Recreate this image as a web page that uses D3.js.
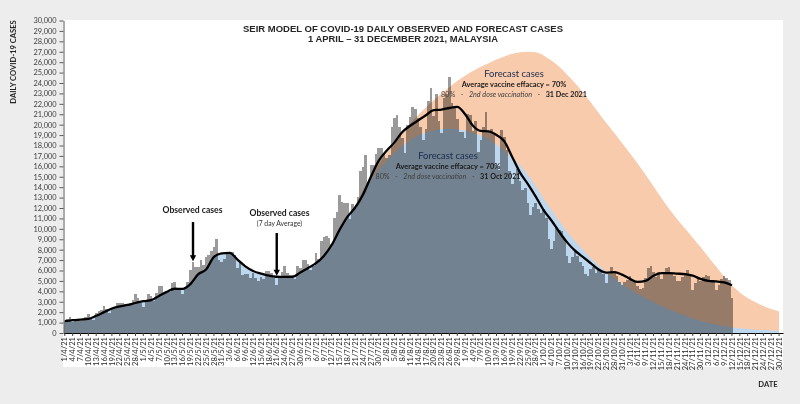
<!DOCTYPE html>
<html><head><meta charset="utf-8">
<script src="https://cdn.jsdelivr.net/npm/d3@7"></script>
<style>
html,body{margin:0;padding:0;background:#ededed;}
svg{display:block;}
text{white-space:pre;}
</style></head>
<body>
<svg id="c" width="800" height="404"></svg>
<script>
// ---------------- DATA ----------------
const startDate = "2021-04-01";
const endDate = "2021-12-31";

const tickLabels = ["1/4/21","4/4/21","7/4/21","10/4/21","13/4/21","16/4/21","19/4/21","22/4/21","25/4/21","28/4/21",
"1/5/21","4/5/21","7/5/21","10/5/21","13/5/21","16/5/21","19/5/21","22/5/21","25/5/21","28/5/21","31/5/21",
"3/6/21","6/6/21","9/6/21","12/6/21","15/6/21","18/6/21","21/6/21","24/6/21","27/6/21","30/6/21",
"3/7/21","6/7/21","9/7/21","12/7/21","15/7/21","18/7/21","21/7/21","24/7/21","27/7/21","30/7/21",
"2/8/21","5/8/21","8/8/21","11/8/21","14/8/21","17/8/21","20/8/21","23/8/21","26/8/21","29/8/21",
"1/9/21","4/9/21","7/9/21","10/9/21","13/9/21","16/9/21","19/9/21","22/9/21","25/9/21","28/9/21",
"1/10/21","4/10/21","7/10/21","10/10/21","13/10/21","16/10/21","19/10/21","22/10/21","25/10/21","28/10/21","31/10/21",
"3/11/21","6/11/21","9/11/21","12/11/21","15/11/21","18/11/21","21/11/21","24/11/21","27/11/21","30/11/21",
"3/12/21","6/12/21","9/12/21","12/12/21","15/12/21","18/12/21","21/12/21","24/12/21","27/12/21","30/12/21"];

const yTickValues = [0,1000,2000,3000,4000,5000,6000,7000,8000,9000,10000,11000,12000,13000,14000,15000,
16000,17000,18000,19000,20000,21000,22000,23000,24000,25000,26000,27000,28000,29000,30000];

// daily observed cases, 1 April – 12 December 2021
const observedApr = [1181,1349,1580,1054,1291,1290,1139,1318,1551,1780,1313,1246,1889,2148,2195,2570,2331,1889,2341,2340,2875,2850,2847,2776,2776,2891,3142,3700,3332,2881];
const observedMay = [2500,3120,3744,3551,3120,3800,4519,4498,3733,3807,3973,4765,4850,4113,4140,3780,4446,4865,6075,6806,6320,6320,6976,6509,7289,7478,7857,8290,9020,6999,6824];
const observedJun = [7105,7703,7750,7748,7452,6241,6849,5566,5671,5671,5271,5793,5304,4949,5419,5150,5911,5911,5744,5293,4611,5244,5841,6440,5803,5586,5586,5218,6437,6276];
const observedJul = [6988,6982,6658,6045,6387,7654,7097,8868,9180,9353,9105,8574,11079,11618,13215,12541,12528,12510,10972,12366,11985,13034,15573,15902,17045,14516,16117,16117,17170,17786,17786];
const observedAug = [17150,16807,17105,19819,20596,20889,19819,18688,17236,19991,20780,21668,21468,20670,19759,18547,19631,22242,23564,20800,22948,20399,19198,22597,22928,24599,22070,21735,20579,19268,19268];
const observedSep = [18762,20988,20896,19378,20396,17352,18547,19733,21176,19307,19550,19198,16073,15669,19495,18815,17577,15549,14345,14990,15759,14554,13754,13899,12434,11332,12051,12510,11889,11532];
const observedOct = [11889,11075,9066,8075,8817,10054,9890,9751,9066,7373,6709,7276,7950,7420,6843,6420,5666,5434,6141,6307,5745,6062,5828,5666,4782,5666,6301,5974,5500,4915,4572];
const observedNov = [4900,5100,5446,4970,5000,4560,4240,4300,5316,6280,6410,5860,5330,5809,5200,5700,6280,6300,5800,5500,4970,5000,5400,5700,6090,5500,4140,4800,5200,4970];
const observedDec = [5400,5600,5500,5100,4950,4140,4600,5200,5500,5300,5100,3400];

// 7-day average of observed cases, at the tick dates (1/4 ... 12/12)
const avgLine = [1130,1230,1290,1360,1650,2000,2350,2550,2700,2880,
3050,3150,3550,3950,4250,4240,4700,5650,6100,7300,7650,
7700,7050,6400,5950,5700,5500,5400,5380,5390,5800,
6250,6700,7400,8450,9900,11150,12050,13300,15000,16550,
17500,18300,19300,19900,20400,20900,21400,21450,21600,21700,
21000,19900,19400,19350,19000,18400,16900,15400,14300,13100,
11800,10800,9700,8700,7900,7300,6700,6100,5800,5850,5600,
5200,4900,5000,5500,5750,5750,5700,5650,5500,5200,
5000,4950,4850,4580];

// forecast: 80% 2nd dose by 31 Oct 2021 (at tick dates)
const forecastOct = [1130,1230,1290,1360,1650,2000,2350,2550,2700,2880,
3050,3150,3550,3950,4250,4240,4700,5650,6100,7300,7650,
7700,7050,6400,5950,5700,5500,5400,5380,5390,5800,
6250,6700,7400,8450,9900,11100,12200,13500,14700,15700,
16500,17300,17950,18500,18950,19250,19450,19580,19620,19560,
19420,19200,18950,18600,18100,17500,16800,16100,15200,14100,
12900,11800,10700,9700,8800,8000,7200,6500,5850,5250,4700,
4200,3750,3350,2950,2600,2250,1950,1650,1400,1150,
950,800,650,540,450,380,320,280,240,210];

// forecast: 80% 2nd dose by 31 Dec 2021 (at tick dates)
const forecastDec = [1130,1230,1290,1360,1650,2000,2350,2550,2700,2880,
3050,3150,3550,3950,4250,4240,4700,5650,6100,7300,7650,
7700,7050,6400,5950,5700,5500,5400,5380,5390,5800,
6250,6700,7400,8450,9900,11100,12300,13700,15000,16200,
17300,18300,19200,20100,20900,21650,22350,23000,23600,24200,
24700,25150,25550,25900,26250,26550,26800,26950,27000,26950,
26650,26150,25550,24800,24000,23100,22150,21150,20150,19200,18250,
17250,16250,15200,14100,12950,11900,10950,10050,9150,8250,
7300,6350,5400,4550,3900,3350,2950,2600,2300,2100];

// ---------------- CHART ----------------
const observed = [].concat(observedApr,observedMay,observedJun,observedJul,observedAug,observedSep,observedOct,observedNov,observedDec);

const svg = d3.select("#c");
const FONT = "Lato, 'Open Sans', sans-serif";

svg.append("rect").attr("x",0).attr("y",0).attr("width",800).attr("height",404).attr("fill","#ededed");
svg.append("rect").attr("x",63).attr("y",20).attr("width",720).attr("height",347).attr("fill","#ffffff");

const parse = d3.timeParse("%Y-%m-%d");
const parseTick = d3.timeParse("%d/%m/%y");
const key = d3.timeFormat("%Y-%m-%d");
const days = d3.timeDay.range(parse(startDate), d3.timeDay.offset(parse(endDate),1)).map(key);
const tickKeys = tickLabels.map(t => key(parseTick(t)));

const x = d3.scaleBand().domain(days).range([63.5, 783]).padding(0);
const y = d3.scaleLinear().domain([0, 30000]).range([333, 20.5]);
const cx = k => x(k) + x.bandwidth()/2;

const area = d3.area().x(d => cx(d.k)).y0(y(0)).y1(d => y(d.v)).curve(d3.curveMonotoneX);

const decData = tickKeys.map((k,i) => ({k, v: forecastDec[i]}));
const octData = tickKeys.map((k,i) => ({k, v: forecastOct[i]}));

svg.append("path").datum(decData).attr("d", area).attr("fill", "#f8cbad");
svg.append("path").datum(octData).attr("d", area).attr("fill", "#bdd7ee");

const bars = svg.append("g").style("mix-blend-mode","multiply");
bars.selectAll("rect").data(observed).join("rect")
  .attr("x", (d,i) => x(days[i]))
  .attr("width", x.bandwidth())
  .attr("y", d => y(d))
  .attr("height", d => y(0) - y(d))
  .attr("fill", "#9a9a9a")
  .attr("shape-rendering", "crispEdges");

const avgData = avgLine.map((v,i) => ({k: tickKeys[i], v}));
svg.append("path").datum(avgData)
  .attr("d", d3.line().x(d => cx(d.k)).y(d => y(d.v)).curve(d3.curveMonotoneX))
  .attr("fill","none").attr("stroke","#000").attr("stroke-width",2.3).attr("stroke-linejoin","round");

// Y axis
const yAxis = svg.append("g").attr("transform","translate(63.5,0)")
  .call(d3.axisLeft(y).tickValues(yTickValues).tickFormat(d3.format(",")).tickSize(4).tickSizeOuter(0).tickPadding(3));
yAxis.select(".domain").attr("stroke","#595959");
yAxis.selectAll(".tick line").attr("stroke","#595959");
yAxis.selectAll("text").attr("font-family",FONT).attr("font-size",7.4).attr("fill","#404040");

// X axis
const xAxis = svg.append("g").attr("transform","translate(0,333)")
  .call(d3.axisBottom(x).tickValues(tickKeys).tickFormat((d,i) => tickLabels[i]).tickSize(3).tickSizeOuter(0));
xAxis.select(".domain").attr("stroke","#000").attr("stroke-width",1.2);
xAxis.selectAll(".tick line").attr("stroke","#404040");
xAxis.selectAll("text")
  .attr("font-family",FONT).attr("font-size",7.6).attr("fill","#262626")
  .attr("transform","rotate(-90)").attr("text-anchor","end")
  .attr("x",-4).attr("y",0).attr("dy","0.35em");

// Axis titles
svg.append("text").attr("transform","translate(16,62) rotate(-90)").attr("text-anchor","middle")
  .attr("font-family",FONT).attr("font-weight","bold").attr("font-size",7.6).attr("fill","#262626")
  .text("DAILY COVID-19 CASES");
svg.append("text").attr("x",768).attr("y",387).attr("text-anchor","middle")
  .attr("font-family",FONT).attr("font-weight","bold").attr("font-size",7.6).attr("fill","#262626")
  .text("DATE");

// Chart title
const tfont = "'Liberation Sans', Arial, sans-serif";
svg.append("text").attr("x",403).attr("y",31.5).attr("text-anchor","middle")
  .attr("font-family",tfont).attr("font-weight","bold").attr("font-size",9.2).attr("fill","#262626")
  .attr("textLength",320).attr("lengthAdjust","spacingAndGlyphs")
  .text("SEIR MODEL OF COVID-19 DAILY OBSERVED AND FORECAST CASES");
svg.append("text").attr("x",403).attr("y",41.5).attr("text-anchor","middle")
  .attr("font-family",tfont).attr("font-weight","bold").attr("font-size",9.2).attr("fill","#262626")
  .attr("textLength",190).attr("lengthAdjust","spacingAndGlyphs")
  .text("1 APRIL \u2013 31 DECEMBER 2021, MALAYSIA");

// Annotations
function arrow(xk, yTop, val){
  const ax = cx(xk), tip = y(val);
  svg.append("line").attr("x1",ax).attr("x2",ax).attr("y1",yTop).attr("y2",tip-5)
    .attr("stroke","#000").attr("stroke-width",2.4);
  svg.append("path").attr("d",`M${ax-3.2},${tip-6} L${ax+3.2},${tip-6} L${ax},${tip} Z`).attr("fill","#000");
}
svg.append("text").attr("x",192.5).attr("y",213).attr("text-anchor","middle")
  .attr("font-family",FONT).attr("font-weight","bold").attr("font-size",8.6).attr("fill","#1a1a1a")
  .text("Observed cases");
arrow("2021-05-20", 222, 6900);

svg.append("text").attr("x",279.5).attr("y",216).attr("text-anchor","middle")
  .attr("font-family",FONT).attr("font-weight","bold").attr("font-size",8.6).attr("fill","#1a1a1a")
  .text("Observed cases");
svg.append("text").attr("x",279.5).attr("y",226).attr("text-anchor","middle")
  .attr("font-family",FONT).attr("font-size",6.8).attr("fill","#333")
  .text("(7 day Average)");
arrow("2021-06-21", 233, 5500);

function forecastLabel(cxp, y0, dateText){
  svg.append("text").attr("x",cxp).attr("y",y0).attr("text-anchor","middle")
    .attr("font-family",FONT).attr("font-size",9.4).attr("fill","#172a4d")
    .text("Forecast cases");
  svg.append("text").attr("x",cxp).attr("y",y0+10).attr("text-anchor","middle")
    .attr("font-family",FONT).attr("font-weight","bold").attr("font-size",7.4).attr("fill","#1a1a1a")
    .text("Average vaccine effacacy = 70%");
  const t = svg.append("text").attr("x",cxp).attr("y",y0+19.5).attr("text-anchor","middle")
    .attr("font-family",FONT).attr("font-size",7.2).attr("fill","#404040");
  t.append("tspan").text("80%   -   ");
  t.append("tspan").attr("font-style","italic").text("2nd dose vaccination");
  t.append("tspan").text("   -   ");
  t.append("tspan").attr("font-weight","bold").attr("fill","#1a1a1a").text(dateText);
}
forecastLabel(514, 77, "31 Dec 2021");
forecastLabel(448, 159, "31 Oct 2021");
</script>
</body></html>
